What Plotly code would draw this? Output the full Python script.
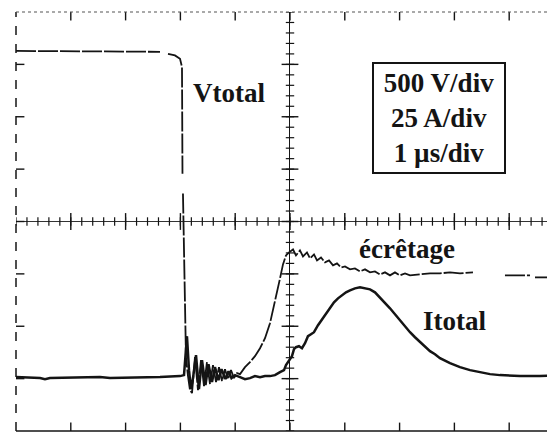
import numpy as np
import plotly.graph_objects as go

# ---- data (time in µs, 1 µs/div; amplitude in screen divisions) ----
vtotal_t = [-5.000, -3.996, -2.993, -2.372, None,
            -2.226, -2.099, -2.007, -1.971, -1.962, None,
            -1.953, -1.916, -1.898, -1.861, -1.825, -1.788, -1.734, -1.679, -1.624, -1.569,
            -1.515, -1.460, -1.405, -1.350, -1.296, -1.241, -1.186, -1.131, -1.077, -1.022,
            -0.967, -0.912, -0.821, -0.730, -0.639, -0.547, -0.456, -0.365, -0.292, -0.237,
            -0.182, -0.128, -0.073, -0.018,
            0.055, 0.109, 0.182, 0.237, 0.310, 0.365, 0.438, 0.493, 0.566, 0.639,
            0.712, 0.785, 0.858, 0.931, 1.004, 1.095, 1.186, 1.277, 1.369, 1.460,
            1.551, 1.642, 1.734, 1.825, 1.916, 2.007, 2.099, 2.190, 2.372, 2.555,
            2.737, 2.920, 3.102, 3.339, None,
            3.923, 4.380, None, 4.471, 4.836]
vtotal_v = [3.257, 3.250, 3.240, 3.240, None,
            3.200, 3.171, 3.105, 2.952, 0.914, None,
            0.533, -1.467, -2.610, -2.952, -3.219, -3.276, -2.590, -3.219, -2.648, -3.143,
            -2.686, -3.105, -2.743, -3.067, -2.781, -3.048, -2.819, -3.010, -2.838, -2.990,
            -2.895, -2.914, -2.781, -2.686, -2.571, -2.419, -2.229, -1.943, -1.619, -1.352,
            -1.086, -0.819, -0.648, -0.590,
            -0.533, -0.648, -0.552, -0.667, -0.590, -0.705, -0.629, -0.743, -0.686, -0.781,
            -0.743, -0.838, -0.800, -0.876, -0.857, -0.914, -0.895, -0.952, -0.914, -0.971,
            -0.952, -1.010, -0.971, -1.029, -0.971, -1.029, -0.990, -1.029, -1.010, -0.990,
            -0.990, -0.971, -0.990, -0.971, None,
            -1.029, -1.029, None, -1.067, -1.067]

itotal_t = [-5.000, -4.562, -4.471, -4.380, -3.467, -3.285, -2.372, -2.007, -1.934, -1.880,
            -1.843, -1.807, -1.770, -1.715, -1.661, -1.606, -1.542, -1.487, -1.423, -1.369,
            -1.305, -1.250, -1.177, -1.122, -1.068, -1.004, -0.912, -0.821, -0.730, -0.639,
            -0.547, -0.456, -0.365, -0.274, -0.182, -0.109, -0.073, -0.036, 0.000, 0.036,
            0.073, 0.109, 0.164, 0.219, 0.274, 0.328, 0.383, 0.438, 0.511, 0.584,
            0.657, 0.730, 0.803, 0.876, 0.949, 1.022, 1.095, 1.186, 1.277, 1.369,
            1.460, 1.551, 1.642, 1.734, 1.825, 1.916, 2.007, 2.099, 2.190, 2.281,
            2.372, 2.464, 2.555, 2.646, 2.737, 2.920, 3.102, 3.285, 3.467, 3.650,
            3.832, 4.197, 4.562, 4.836]
itotal_v = [-2.971, -2.990, -3.010, -2.990, -2.971, -2.990, -2.971, -2.952, -2.933, -2.190,
            -2.838, -3.200, -2.990, -2.552, -3.200, -2.648, -3.124, -2.724, -3.067, -2.781,
            -3.029, -2.819, -3.010, -2.857, -2.990, -2.933, -2.971, -3.010, -2.990, -2.952,
            -2.971, -2.952, -2.952, -2.933, -2.876, -2.838, -2.743, -2.686, -2.648, -2.571,
            -2.438, -2.400, -2.381, -2.419, -2.324, -2.190, -2.152, -2.114, -1.981, -1.867,
            -1.752, -1.638, -1.543, -1.467, -1.410, -1.352, -1.314, -1.276, -1.257, -1.276,
            -1.295, -1.352, -1.448, -1.543, -1.657, -1.771, -1.886, -2.000, -2.114, -2.210,
            -2.305, -2.400, -2.476, -2.533, -2.610, -2.705, -2.781, -2.838, -2.876, -2.914,
            -2.933, -2.952, -2.952, -2.933]

labels = ["Vtotal", "écrêtage", "Itotal"]
scale_text = "500 V/div<br>25 A/div<br>1 µs/div"

# ---- graticule ----
X0, X1 = -5.0, 4.836
Y0, Y1 = -4.0, 4.0
INK = "#141414"

fig = go.Figure()

major_x = np.arange(-4, 5, 1)
major_y = np.arange(-3, 4, 1)
minor_x = np.round(np.arange(-5, 4.85, 0.2), 3)
minor_y = np.round(np.arange(-4, 4.01, 0.2), 3)

def ticks(x, y, sym, size, w=1.4):
    fig.add_trace(go.Scatter(x=x, y=y, mode="markers", hoverinfo="skip", showlegend=False,
                             cliponaxis=True,
                             marker=dict(symbol=sym, size=size, color=INK,
                                         line=dict(color=INK, width=w))))

# border ticks (half clipped by the plot area -> point inward)
ticks(major_x, [Y1] * len(major_x), "line-ns", 12)
ticks(major_x, [Y0] * len(major_x), "line-ns", 12)
ticks([X0] * len(major_y), major_y, "line-ew", 12)
# centre cross-hair ticks
ticks(minor_x, [0] * len(minor_x), "line-ns", 6, 1.2)
ticks(minor_y * 0, minor_y, "line-ew", 6, 1.2)
ticks(major_x, [0] * len(major_x), "line-ns", 12)
ticks([0] * len(major_y), major_y, "line-ew", 12)

# ---- traces ----
fig.add_trace(go.Scatter(x=vtotal_t, y=vtotal_v, mode="lines", name=labels[0],
                         line=dict(color=INK, width=1.8, dash="20px,2px"),
                         connectgaps=False, showlegend=False))
fig.add_trace(go.Scatter(x=itotal_t, y=itotal_v, mode="lines", name=labels[2],
                         line=dict(color=INK, width=2.5), showlegend=False))

font = dict(family="Liberation Serif, Times New Roman, serif", size=27, color=INK)
fig.add_annotation(x=-1.113, y=2.45, text="<b>%s</b>" % labels[0], showarrow=False, font=font)
fig.add_annotation(x=2.126, y=-0.52, text="<b>%s</b>" % labels[1], showarrow=False, font=font)
fig.add_annotation(x=3.011, y=-1.90, text="<b>%s</b>" % labels[2], showarrow=False, font=font)
fig.add_annotation(x=2.72, y=1.98, text="<b>%s</b>" % scale_text, showarrow=False, font=font,
                   bordercolor=INK, borderwidth=2, borderpad=4, width=122, align="center")

# borders
fig.add_shape(type="line", xref="paper", yref="paper", x0=0, x1=0, y0=0, y1=1,
              line=dict(color=INK, width=1.5, dash="dash"))
fig.add_shape(type="line", xref="paper", yref="paper", x0=0, x1=1, y0=1, y1=1,
              line=dict(color="#555", width=1.2, dash="dot"))
fig.add_shape(type="line", xref="paper", yref="paper", x0=0, x1=1, y0=0, y1=0,
              line=dict(color=INK, width=1.5))

# the page body adds an 8 px offset, so the figure is 8 px smaller and margins 8 px less
fig.update_layout(
    width=547, height=424,
    margin=dict(l=8, r=0, t=4, b=1),
    paper_bgcolor="white", plot_bgcolor="white",
    xaxis=dict(range=[X0, X1], showgrid=False, showticklabels=False, ticks="",
               zeroline=True, zerolinecolor=INK, zerolinewidth=1.4),
    yaxis=dict(range=[Y0, Y1], showgrid=False, showticklabels=False, ticks="",
               zeroline=True, zerolinecolor="#333", zerolinewidth=1),
)

fig.write_html("out.html")
